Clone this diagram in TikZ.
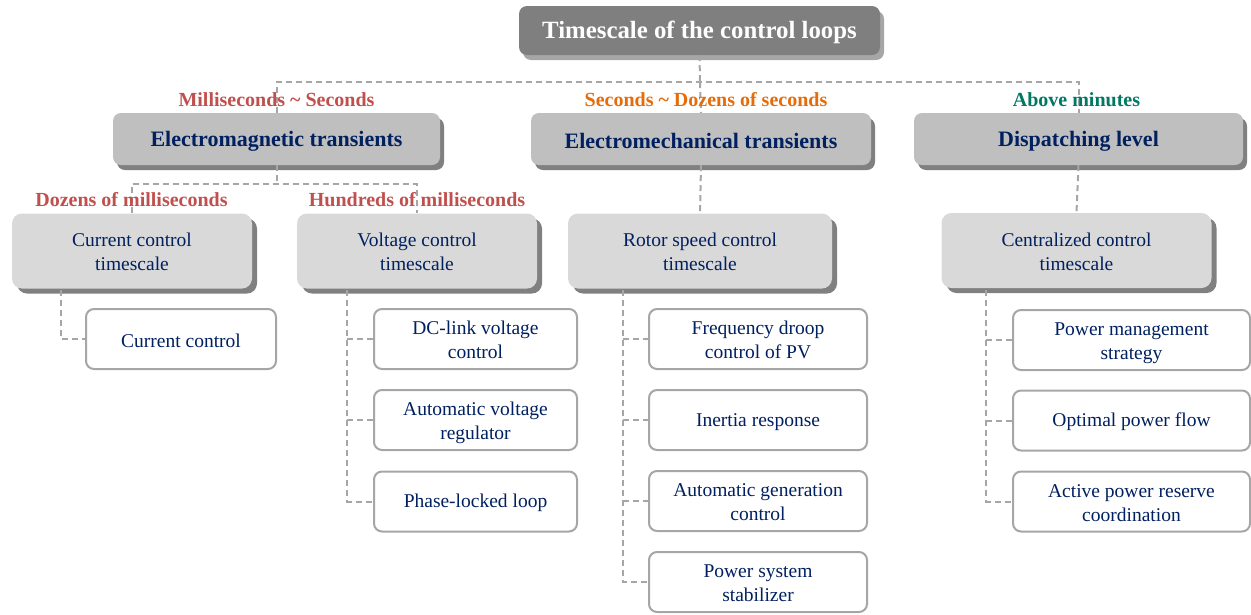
\documentclass[tikz,border=0pt]{standalone}
\usepackage{fontspec}
\setmainfont{Liberation Serif}
\usetikzlibrary{shadows}
\definecolor{navy}{RGB}{0,32,96}
\definecolor{lred}{RGB}{192,80,77}
\definecolor{lorange}{RGB}{228,108,10}
\definecolor{lteal}{RGB}{0,120,100}
\definecolor{titlefill}{RGB}{127,127,127}
\definecolor{titleshadow}{RGB}{166,166,166}
\definecolor{l2fill}{RGB}{191,191,191}
\definecolor{l3fill}{RGB}{217,217,217}
\definecolor{darkshadow}{RGB}{128,128,128}
\definecolor{linegray}{RGB}{166,166,166}
\tikzset{
  oneline/.style={text height=17pt},
  twoline/.style={text height=44pt, text depth=5pt},
  titlebox/.style={fill=titlefill, rounded corners=8pt, minimum height=49pt, minimum width=361pt,
    text=white, font=\fontsize{24.8}{28}\selectfont\bfseries, text height=21pt,
    drop shadow={shadow xshift=4pt, shadow yshift=-5pt, fill=titleshadow, opacity=1}},
  levtwo/.style={fill=l2fill, rounded corners=8pt, minimum height=52pt,
    text=navy, font=\fontsize{22}{26}\selectfont\bfseries, text height=20pt,
    drop shadow={shadow xshift=4pt, shadow yshift=-5pt, fill=darkshadow, opacity=1}},
  levthree/.style={fill=l3fill, rounded corners=10pt, minimum height=75pt, align=center,
    text=navy, font=\fontsize{19.5}{24}\selectfont, twoline,
    drop shadow={shadow xshift=5pt, shadow yshift=-5pt, fill=darkshadow, opacity=1}},
  leaf/.style={draw=linegray, line width=2pt, fill=white, rounded corners=8pt, minimum height=60pt,
    align=center, text=navy, font=\fontsize{19.5}{24}\selectfont},
  lbl/.style={font=\fontsize{20}{24}\selectfont\bfseries, inner sep=0pt},
  conn/.style={draw=linegray, line width=2pt, dash pattern=on 6pt off 4pt},
}
\begin{document}
\begin{tikzpicture}[x=1pt,y=-1pt]
\useasboundingbox (0,0) rectangle (1251,614);
\coordinate (bus) at (700,82);
\coordinate (emb) at (276.5,184);
\coordinate (cct) at (61,290);
\coordinate (vct) at (347,290);
\coordinate (rst) at (623,290);
\coordinate (czt) at (986,290);

% title
\node[titlebox] (T) at (699.5,30.5) {Timescale of the control loops};
% level 2
\node[levtwo, minimum width=327pt] (EM) at (276.5,139) {Electromagnetic transients};
\node[levtwo, minimum width=340pt] (EMe) at (701,139) {Electromechanical transients};
\node[levtwo, minimum width=329pt] (DL) at (1078.5,139) {Dispatching level};
% level 3
\node[levthree, minimum width=240pt] (CCt) at (132,251) {Current control\\timescale};
\node[levthree, minimum width=240pt] (VCt) at (417,251) {Voltage control\\timescale};
\node[levthree, minimum width=264pt] (RSt) at (700,251) {Rotor speed control\\timescale};
\node[levthree, minimum width=270pt] (CZt) at (1076.5,250.5) {Centralized control\\timescale};
% leaves
\node[leaf, oneline, minimum width=190pt] (CCl) at (181,339) {Current control};
\node[leaf, twoline, minimum width=203pt] (DC) at (475.5,339) {DC-link voltage\\control};
\node[leaf, twoline, minimum width=203pt] (AVR) at (475.5,420) {Automatic voltage\\regulator};
\node[leaf, oneline, minimum width=203pt] (PLL) at (475.5,501.5) {Phase-locked loop};
\node[leaf, twoline, minimum width=218pt] (FD) at (758,339) {Frequency droop\\control of PV};
\node[leaf, oneline, minimum width=218pt] (IR) at (758,420) {Inertia response};
\node[leaf, twoline, minimum width=218pt] (AGC) at (758,501) {Automatic generation\\control};
\node[leaf, twoline, minimum width=218pt] (PSS) at (758,582) {Power system\\stabilizer};
\node[leaf, twoline, minimum width=237pt] (PM) at (1131.5,340) {Power management\\strategy};
\node[leaf, oneline, minimum width=237pt] (OPF) at (1131.5,420.5) {Optimal power flow};
\node[leaf, twoline, minimum width=237pt] (APR) at (1131.5,501.5) {Active power reserve\\coordination};

% connectors
\draw[conn] (T.south) -- (bus);
\draw[conn] (EM.north) |- (bus) -| (DL.north);
\draw[conn] (bus) -- (EMe.north);
\draw[conn] (EM.south) -- (emb);
\draw[conn] (CCt.north) |- (emb) -| (VCt.north);
\draw[conn] (EMe.south) -- (RSt.north);
\draw[conn] (DL.south) -- (CZt.north);
\draw[conn] (cct) |- (CCl.west);
\draw[conn] (vct) |- (PLL.west);
\draw[conn] (vct |- DC.west) -- (DC.west);
\draw[conn] (vct |- AVR.west) -- (AVR.west);
\draw[conn] (rst) |- (PSS.west);
\draw[conn] (rst |- FD.west) -- (FD.west);
\draw[conn] (rst |- IR.west) -- (IR.west);
\draw[conn] (rst |- AGC.west) -- (AGC.west);
\draw[conn] (czt) |- (APR.west);
\draw[conn] (czt |- PM.west) -- (PM.west);
\draw[conn] (czt |- OPF.west) -- (OPF.west);
% labels
\node[lbl, text=lred] (L1) at (276.5,100) {Milliseconds \textasciitilde{} Seconds};
\node[lbl, text=lorange] (L2) at (706,100) {Seconds \textasciitilde{} Dozens of seconds};
\node[lbl, text=lteal] (L3) at (1076.5,100) {Above minutes};
\node[lbl, text=lred] (L4) at (131.5,200) {Dozens of milliseconds};
\node[lbl, text=lred] (L5) at (417,200) {Hundreds of milliseconds};
\end{tikzpicture}
\end{document}
